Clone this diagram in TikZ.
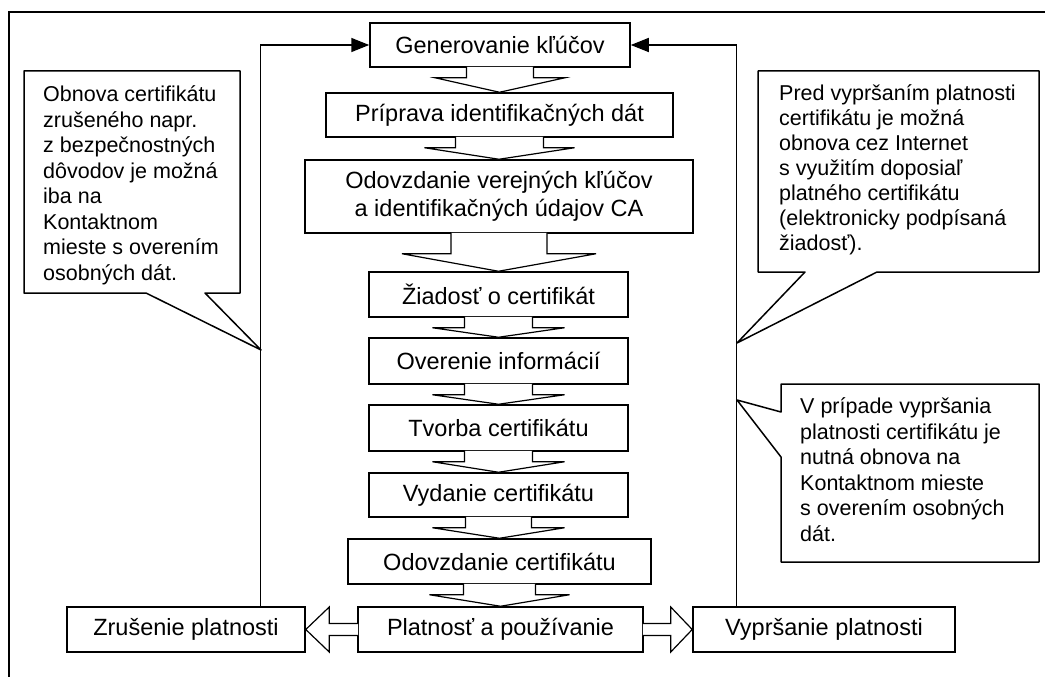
\documentclass[tikz,border=0pt]{standalone}
\usepackage{fontspec}
\setmainfont{Liberation Sans}
\usetikzlibrary{calc,arrows.meta}
\newcommand{\barrowv}[5]{%
  \draw[barrow] ($(#1.south)+(-#3,-0.8)$) -- ($(#1.south)+(-#3,#5)$) -- ($(#1.south)+(-#4,#5)$) -- (#2.north) -- ($(#1.south)+(#4,#5)$) -- ($(#1.south)+(#3,#5)$) -- ($(#1.south)+(#3,-0.8)$);}
\begin{document}
\begin{tikzpicture}[x=1pt,y=-1pt,
  box/.style={draw, line width=1.5pt, fill=white, inner sep=0pt, font=\fontsize{23.5}{28}\selectfont, align=center},
  barrow/.style={draw, fill=white, line width=1.2pt, line join=miter},
  conn/.style={line width=1.5pt, -{Triangle[length=18pt,width=14pt]}},
  callout/.style={draw, fill=white, line width=1.5pt, line join=round},
  ctext/.style={anchor=base west, inner sep=0pt, align=left, font=\fontsize{21.5}{25.5}\selectfont},
]
\useasboundingbox (0,0) rectangle (1045,677);
\fill[white] (0,0) rectangle (1045,677);
\draw[line width=1.5pt] (9,677) -- (9,12) -- (1045,12);

% main chain
\node[box, minimum width=260, minimum height=44] (gen) at (500,45) {Generovanie kľúčov};
\node[box, minimum width=347, minimum height=44] (prip) at (499.5,115) {Príprava identifikačných dát};
\node[box, minimum width=388, minimum height=73] (odv) at (499,196.5) {Odovzdanie verejných kľúčov\\a identifikačných údajov CA};
\node[box, minimum width=259, minimum height=45] (ziad) at (498.5,294.5) {Žiadosť o certifikát};
\node[box, minimum width=259, minimum height=46] (over) at (498.5,361) {Overenie informácií};
\node[box, minimum width=259, minimum height=46] (tvor) at (498.5,428) {Tvorba certifikátu};
\node[box, minimum width=259, minimum height=44] (vyd) at (498.5,495) {Vydanie certifikátu};
\node[box, minimum width=303, minimum height=45] (odc) at (499.5,561.5) {Odovzdanie certifikátu};
\node[box, minimum width=285, minimum height=45] (plat) at (500.5,629.5) {Platnosť a používanie};
\node[box, minimum width=238, minimum height=45] (zrus) at (186,629.5) {Zrušenie platnosti};
\node[box, minimum width=262, minimum height=45] (vyp) at (824,629.5) {Vypršanie platnosti};

% block arrows
\barrowv{gen}{prip}{33.5}{65}{10}
\barrowv{prip}{odv}{44}{75}{10}
\barrowv{odv}{ziad}{48}{97}{20}
\barrowv{ziad}{over}{34}{66}{10}
\barrowv{over}{tvor}{34}{66}{10}
\barrowv{tvor}{vyd}{34}{66}{10}
\barrowv{vyd}{odc}{33}{66}{10}
\barrowv{odc}{plat}{36}{70}{10}

\draw[barrow] ($(plat.west)+(0.8,-6)$) -- ($(plat.west)+(-28,-6)$) -- ($(plat.west)+(-28,-22.5)$) -- (zrus.east) -- ($(plat.west)+(-28,22.5)$) -- ($(plat.west)+(-28,6)$) -- ($(plat.west)+(0.8,6)$);
\draw[barrow] ($(plat.east)+(-0.8,-6)$) -- ($(plat.east)+(27,-6)$) -- ($(plat.east)+(27,-22.5)$) -- (vyp.west) -- ($(plat.east)+(27,22.5)$) -- ($(plat.east)+(27,6)$) -- ($(plat.east)+(-0.8,6)$);

% loop connectors
\draw[conn] ($(zrus.north west)+(194,0)$) |- (gen.west);
\draw[conn] ($(vyp.north west)+(44,0)$) |- (gen.east);

% callouts
\coordinate (tipL) at (261,350);
\coordinate (tipR) at (737,343);
\coordinate (tipB) at (737,400);
\draw[callout] (24,71) -- (240,71) -- (240,293) -- (205,293) -- (tipL) -- (146,293) -- (24,293) -- cycle;
\draw[callout] (758,71) -- (1039,71) -- (1039,272) -- (877,272) -- (tipR) -- (805,272) -- (758,272) -- cycle;
\draw[callout] (781,384) -- (1039,384) -- (1039,562) -- (781,562) -- (781,457) -- (tipB) -- (781,412) -- cycle;

% base anchor of a multi-line node = baseline of its last line
\node[ctext] (tL) at (43,280) {Obnova certifikátu\\zrušeného napr.\\z bezpečnostných\\dôvodov je možná\\iba na\\Kontaktnom\\mieste s overením\\osobných dát.};
\node[ctext, font=\fontsize{21.5}{25}\selectfont] (tR) at (779,250) {Pred vypršaním platnosti\\certifikátu je možná\\obnova cez Internet\\s využitím doposiaľ\\platného certifikátu\\(elektronicky podpísaná\\žiadosť).};
\node[ctext] (tB) at (800,541) {V prípade vypršania\\platnosti certifikátu je\\nutná obnova na\\Kontaktnom mieste\\s overením osobných\\dát.};
\end{tikzpicture}
\end{document}
